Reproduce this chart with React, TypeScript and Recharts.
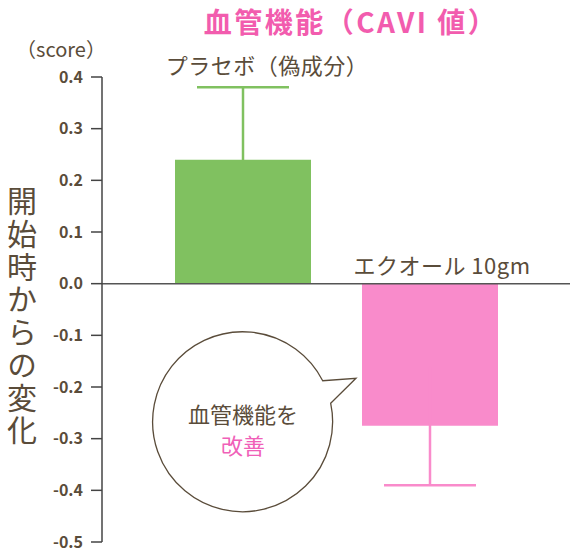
import { BarChart, Bar, XAxis, YAxis, ErrorBar, Cell, ReferenceLine } from 'recharts';

const categories = ['プラセボ（偽成分）', 'エクオール 10gm'];
const changes = [0.24, -0.275];
const errors = [0.14, 0.115];
const barColors = ['#80C160', '#F98BCB'];
const yTicks = [0.4, 0.3, 0.2, 0.1, 0, -0.1, -0.2, -0.3, -0.4, -0.5];

const title = '血管機能（CAVI 値）';
const unitLabel = '（score）';
const yLabel = '開始時からの変化';
const bubbleLines = ['血管機能を', '改善'];

// each bar gets its own error key so the whisker can take the bar's colour
const data = categories.map((name, i) => ({
  name,
  value: changes[i],
  placeboErr: i === 0 ? errors[i] : undefined,
  equolErr: i === 1 ? errors[i] : undefined,
}));

const textColor = '#5A4C3A';
const fontFamily = '"Noto Sans CJK JP", "Noto Sans", sans-serif';

export default function App() {
  return (
    <div style={{ position: 'absolute', left: 0, top: 0, width: 570, height: 552, background: '#fff', fontFamily }}>
      <BarChart
        width={570}
        height={552}
        data={data}
        margin={{ top: 77, right: 0, bottom: 10, left: 0 }}
        barCategoryGap={0}
      >
        <XAxis dataKey="name" hide height={0} padding={{ left: 47, right: 47 }} />
        <YAxis
          width={102}
          domain={[-0.5, 0.4]}
          ticks={yTicks}
          interval={0}
          tickFormatter={(v: number) => v.toFixed(1)}
          tickSize={11}
          tickMargin={8}
          stroke="#444"
          strokeWidth={1.5}
          tick={{ fontSize: 16, fontWeight: 600, fill: textColor, fontFamily }}
        />
        <Bar dataKey="value" barSize={136} isAnimationActive={false}>
          {data.map((d, i) => (
            <Cell key={d.name} fill={barColors[i]} />
          ))}
          <ErrorBar dataKey="placeboErr" direction="y" width={46} stroke={barColors[0]} strokeWidth={2.5} isAnimationActive={false} />
          <ErrorBar dataKey="equolErr" direction="y" width={46} stroke={barColors[1]} strokeWidth={2.5} isAnimationActive={false} />
        </Bar>
        <ReferenceLine y={0} stroke="#555" strokeWidth={1.5} />
      </BarChart>

      <svg width={570} height={552} style={{ position: 'absolute', left: 0, top: 0, pointerEvents: 'none' }}>
        <text x={351} y={33} textAnchor="middle" fontSize={28} fontWeight={700} letterSpacing={2.5} fill="#F25CAE" fontFamily={fontFamily}>
          {title}
        </text>
        <text x={61} y={57} textAnchor="middle" fontSize={20} fill={textColor} fontFamily={fontFamily}>
          {unitLabel}
        </text>
        <text x={267} y={74} textAnchor="middle" fontSize={22} letterSpacing={0.5} fill={textColor} fontFamily={fontFamily}>
          {categories[0]}
        </text>
        <text x={442} y={274} textAnchor="middle" fontSize={22} letterSpacing={0.5} fill={textColor} fontFamily={fontFamily}>
          {categories[1]}
        </text>
        <text
          x={22}
          y={186}
          fontSize={30}
          letterSpacing={2.7}
          fill={textColor}
          fontFamily={fontFamily}
          style={{ writingMode: 'vertical-rl' }}
        >
          {yLabel}
        </text>
        <path
          d="M 330.7 403.3 A 90 90 0 1 1 322.7 380.7 L 356 378.3 Z"
          fill="#fff"
          stroke={textColor}
          strokeWidth={1.3}
        />
        <text x={243} y={423} textAnchor="middle" fontSize={22} fill={textColor} fontFamily={fontFamily}>
          {bubbleLines[0]}
        </text>
        <text x={243} y={454} textAnchor="middle" fontSize={22} fill="#F060B8" fontFamily={fontFamily}>
          {bubbleLines[1]}
        </text>
      </svg>
    </div>
  );
}
